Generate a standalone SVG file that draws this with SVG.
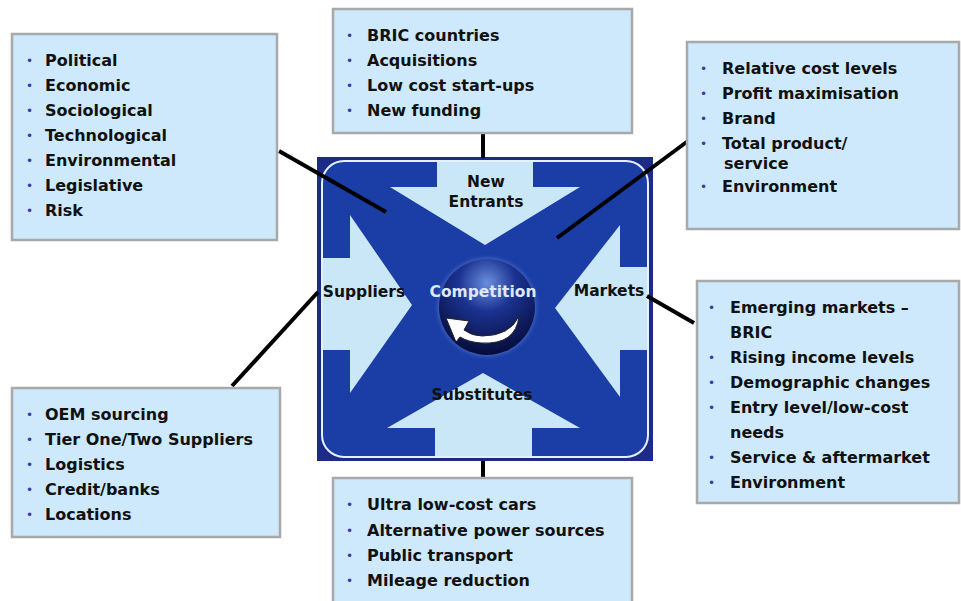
<svg xmlns="http://www.w3.org/2000/svg" width="961" height="601" viewBox="0 0 961 601">
<style>
.box{fill:#cde9fb;stroke:#a9a9a9;stroke-width:2.5}
.t{font-family:"DejaVu Sans",Verdana,sans-serif;font-weight:bold;font-size:16px;fill:#111}
.b{font-family:"DejaVu Sans",sans-serif;font-size:12px;fill:#3a3aa8}
.lbl{font-family:"DejaVu Sans",Verdana,sans-serif;font-weight:bold;font-size:15.5px;fill:#111;text-anchor:middle}
.con{stroke:#000;stroke-width:4;fill:none}
.arr{fill:#cae7f8}
</style>
<defs>
<clipPath id="inner"><rect x="322" y="161" width="326" height="296" rx="22"/></clipPath>
<radialGradient id="sph" cx="50%" cy="25%" r="75%">
<stop offset="0" stop-color="#6a8ede"/>
<stop offset="0.4" stop-color="#1b3290"/>
<stop offset="1" stop-color="#050c3a"/>
</radialGradient>
<radialGradient id="glow" cx="50%" cy="50%" r="50%">
<stop offset="0.82" stop-color="#6a8ad8"/>
<stop offset="1" stop-color="#1a3fa6" stop-opacity="0"/>
</radialGradient>
</defs>

<g id="center">
<rect x="317" y="157" width="336" height="304" fill="#1c2a88"/>
<rect x="322" y="161" width="326" height="296" rx="22" fill="#1a3da6"/>
<g clip-path="url(#inner)">
<polygon class="arr" points="437,155 533,155 533,187 580,187 485,245 390,187 437,187"/>
<polygon class="arr" points="435,465 532,465 532,428 580,428 483,373 387,428 435,428"/>
<polygon class="arr" points="315,258 350,258 350,215 412,305 350,393 350,350 315,350"/>
<polygon class="arr" points="655,267 620,267 620,225 555,308 620,397 620,350 655,350"/>
</g>
<rect x="322" y="161" width="326" height="296" rx="22" fill="none" stroke="#e4f2ff" stroke-width="2"/>
<circle cx="487" cy="307" r="54" fill="url(#glow)"/>
<circle cx="487" cy="307" r="48" fill="url(#sph)"/>
<path d="M519,316 Q516,345 481,343 Q468,342 460,337 L456,342 L446,318 L469,321 L464,330 Q472,336 482,336 Q510,336 519,316 Z" fill="#fff" stroke="#222" stroke-width="1"/>
<text class="lbl" x="486" y="187">New</text>
<text class="lbl" x="486" y="207">Entrants</text>
<text class="lbl" x="364" y="297">Suppliers</text>
<text class="lbl" x="483" y="297" style="fill:#dde8f8">Competition</text>
<text class="lbl" x="609" y="296">Markets</text>
<text class="lbl" x="482" y="400">Substitutes</text>
</g>

<g id="connectors">
<line class="con" x1="279" y1="151" x2="386" y2="212"/>
<line class="con" x1="483" y1="133" x2="483" y2="158"/>
<line class="con" x1="688" y1="141" x2="557" y2="238"/>
<line class="con" x1="647" y1="296" x2="694" y2="323"/>
<line class="con" x1="232" y1="386" x2="318" y2="292"/>
<line class="con" x1="483" y1="461" x2="483" y2="478"/>
</g>

<g id="pest">
<rect class="box" x="12" y="34" width="265" height="206"/>
<text class="b" x="26" y="65">•</text><text class="t" x="45" y="66">Political</text>
<text class="b" x="26" y="90">•</text><text class="t" x="45" y="91">Economic</text>
<text class="b" x="26" y="115">•</text><text class="t" x="45" y="116">Sociological</text>
<text class="b" x="26" y="140">•</text><text class="t" x="45" y="141">Technological</text>
<text class="b" x="26" y="165">•</text><text class="t" x="45" y="166">Environmental</text>
<text class="b" x="26" y="190">•</text><text class="t" x="45" y="191">Legislative</text>
<text class="b" x="26" y="215">•</text><text class="t" x="45" y="216">Risk</text>
</g>

<g id="new-entrants">
<rect class="box" x="333" y="9" width="299" height="124"/>
<text class="b" x="346" y="40">•</text><text class="t" x="367" y="41">BRIC countries</text>
<text class="b" x="346" y="65">•</text><text class="t" x="367" y="66">Acquisitions</text>
<text class="b" x="346" y="90">•</text><text class="t" x="367" y="91">Low cost start-ups</text>
<text class="b" x="346" y="115">•</text><text class="t" x="367" y="116">New funding</text>
</g>

<g id="competition">
<rect class="box" x="687" y="42" width="272" height="187"/>
<text class="b" x="700" y="73">•</text><text class="t" x="722" y="74">Relative cost levels</text>
<text class="b" x="700" y="98">•</text><text class="t" x="722" y="99">Profit maximisation</text>
<text class="b" x="700" y="123">•</text><text class="t" x="722" y="124">Brand</text>
<text class="b" x="700" y="148">•</text><text class="t" x="722" y="149">Total product/</text>
<text class="t" x="724" y="169">service</text>
<text class="b" x="700" y="191">•</text><text class="t" x="722" y="192">Environment</text>
</g>

<g id="markets">
<rect class="box" x="697" y="281" width="262" height="222"/>
<text class="b" x="708" y="312">•</text><text class="t" x="730" y="313">Emerging markets –</text>
<text class="t" x="730" y="338">BRIC</text>
<text class="b" x="708" y="362">•</text><text class="t" x="730" y="363">Rising income levels</text>
<text class="b" x="708" y="387">•</text><text class="t" x="730" y="388">Demographic changes</text>
<text class="b" x="708" y="412">•</text><text class="t" x="730" y="413">Entry level/low-cost</text>
<text class="t" x="730" y="438">needs</text>
<text class="b" x="708" y="462">•</text><text class="t" x="730" y="463">Service &amp; aftermarket</text>
<text class="b" x="708" y="487">•</text><text class="t" x="730" y="488">Environment</text>
</g>

<g id="suppliers">
<rect class="box" x="12" y="388" width="268" height="149"/>
<text class="b" x="26" y="419">•</text><text class="t" x="45" y="420">OEM sourcing</text>
<text class="b" x="26" y="444">•</text><text class="t" x="45" y="445">Tier One/Two Suppliers</text>
<text class="b" x="26" y="469">•</text><text class="t" x="45" y="470">Logistics</text>
<text class="b" x="26" y="494">•</text><text class="t" x="45" y="495">Credit/banks</text>
<text class="b" x="26" y="519">•</text><text class="t" x="45" y="520">Locations</text>
</g>

<g id="substitutes">
<rect class="box" x="333" y="478" width="299" height="130"/>
<text class="b" x="346" y="509">•</text><text class="t" x="367" y="510">Ultra low-cost cars</text>
<text class="b" x="346" y="535">•</text><text class="t" x="367" y="536">Alternative power sources</text>
<text class="b" x="346" y="560">•</text><text class="t" x="367" y="561">Public transport</text>
<text class="b" x="346" y="585">•</text><text class="t" x="367" y="586">Mileage reduction</text>
</g>
</svg>
